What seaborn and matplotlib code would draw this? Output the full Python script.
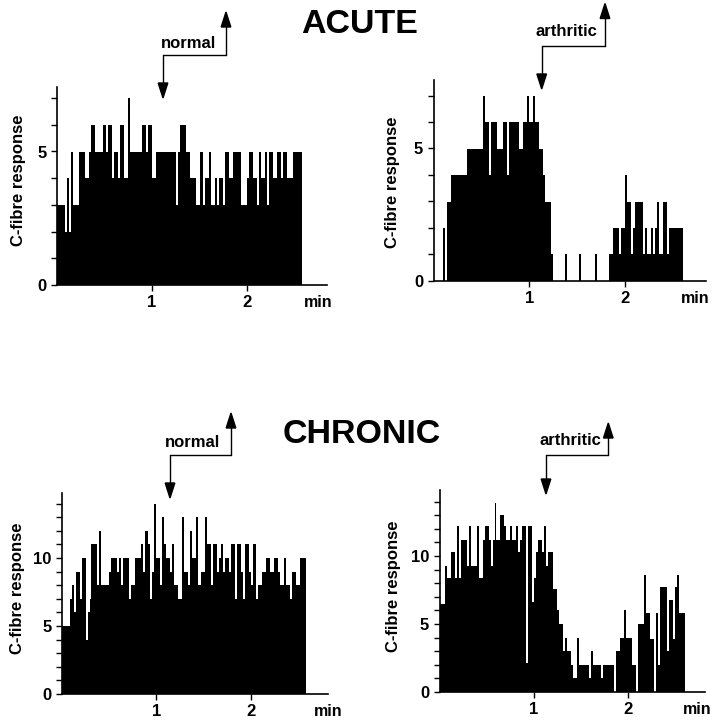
import numpy as np
import pandas as pd
import matplotlib
matplotlib.use("Agg")
import matplotlib.pyplot as plt
import seaborn as sns
from matplotlib.lines import Line2D
from matplotlib.patches import Polygon

# ---------------- data (spike counts per 1.25 s bin) ----------------
BIN_MIN = 1 / 48  # bin width in minutes

acute_normal = [3, 3, 3, 3, 2, 4, 2, 5, 3, 3, 3, 5,
                5, 5, 4, 4, 5, 6, 6, 5, 5, 5, 5, 6,
                6, 5, 6, 6, 4, 5, 5, 4, 6, 6, 4, 4,
                7, 5, 5, 5, 5, 5, 5, 6, 6, 5, 6, 6,
                4, 4, 5, 5, 5, 5, 5, 5, 5, 5, 5, 5,
                3, 5, 6, 6, 6, 5, 5, 4, 4, 4, 3, 3,
                5, 5, 3, 4, 4, 5, 3, 3, 4, 3, 4, 4,
                3, 5, 5, 4, 4, 5, 5, 5, 5, 3, 3, 3,
                4, 5, 5, 4, 4, 3, 5, 4, 4, 5, 3, 5,
                5, 4, 4, 5, 5, 4, 5, 5, 4, 4, 4, 5,
                5, 5, 5, 5]

acute_arthritic = [0, 0, 0, 0, 0, 2, 0, 3, 3, 4, 4, 4,
                   4, 4, 4, 4, 4, 5, 5, 5, 5, 5, 5, 5,
                   5, 7, 6, 6, 4, 6, 6, 6, 5, 5, 5, 6,
                   6, 4, 6, 6, 6, 6, 6, 5, 5, 6, 6, 7,
                   6, 6, 7, 6, 6, 5, 5, 4, 3, 3, 3, 1,
                   0, 0, 0, 0, 0, 0, 1, 0, 0, 0, 0, 0,
                   0, 1, 0, 0, 0, 0, 0, 0, 0, 1, 0, 0,
                   0, 0, 0, 0, 1, 1, 2, 2, 2, 1, 2, 2,
                   4, 3, 3, 1, 2, 3, 3, 3, 3, 1, 2, 1,
                   1, 2, 1, 2, 3, 1, 1, 3, 3, 1, 2, 2,
                   2, 2, 2, 2, 2]

chronic_normal = [5, 5, 5, 5, 7, 8, 6, 9, 9, 7, 10, 10,
                  4, 6, 7, 11, 11, 11, 8, 12, 8, 8, 8, 8,
                  9, 10, 10, 10, 9, 10, 8, 10, 10, 10, 7, 8,
                  8, 10, 10, 10, 11, 9, 12, 12, 11, 7, 9, 14,
                  10, 10, 8, 13, 11, 10, 10, 9, 11, 8, 8, 7,
                  7, 13, 9, 9, 8, 12, 10, 10, 13, 8, 8, 9,
                  9, 13, 11, 11, 8, 11, 11, 9, 10, 11, 9, 10,
                  10, 9, 11, 11, 7, 11, 11, 9, 7, 11, 11, 9,
                  8, 11, 11, 7, 8, 8, 9, 9, 10, 10, 9, 9,
                  10, 10, 9, 8, 8, 10, 8, 8, 7, 9, 9, 8,
                  8, 10, 10, 10]

chronic_arthritic = [6.5, 6.5, 6.5, 9.3, 8.4, 8.4, 10.3, 10.3, 8.4, 12.2, 8.4, 11.2,
                     11.2, 11.2, 9.3, 12.2, 9.3, 9.3, 9.3, 12.2, 8.4, 8.4, 11.2, 12.2,
                     12.2, 11.2, 9.3, 11.2, 13.9, 11.2, 11.2, 13.0, 13.0, 12.2, 11.2, 11.2,
                     12.2, 11.2, 11.2, 12.2, 10.3, 11.2, 12.2, 12.2, 2.1, 12.2, 12.2, 6.6,
                     8.4, 10.3, 11.2, 11.2, 10.3, 12.2, 9.3, 10.3, 10.3, 10.3, 7.6, 7.6,
                     6, 5, 5, 3, 4, 3, 3, 2, 1, 1, 4, 2,
                     2, 2, 2, 2, 1, 3, 2, 2, 2, 2, 1, 2,
                     2, 2, 2, 2, 2, 0, 3, 3, 4, 4, 6, 4,
                     4, 4, 2, 2, 0, 5, 5, 5, 8.6, 5.8, 5.8, 3.9,
                     3.9, 0, 5.8, 2, 7.7, 7.7, 7.7, 7.7, 3, 6.8, 6.8, 3.9,
                     7.7, 8.6, 5.8, 5.8, 5.8]

x_tick_values = [1, 2]
x_tick_labels = ["1", "2"]
x_unit_label = "min"
y_axis_title = "C-fibre response"
acute_y_labels = {0: "0", 5: "5"}
chronic_y_labels = {0: "0", 5: "5", 10: "10"}
section_titles = ["ACUTE", "CHRONIC"]
condition_labels = ["normal", "arthritic"]

# ---------------- style ----------------
sns.set_style("ticks")
plt.rcParams["font.family"] = ["Liberation Sans", "DejaVu Sans"]
plt.rcParams["font.weight"] = "bold"
plt.rcParams["text.color"] = "black"
plt.rcParams["axes.labelcolor"] = "black"
plt.rcParams["xtick.color"] = "black"
plt.rcParams["ytick.color"] = "black"
plt.rcParams["axes.edgecolor"] = "black"

W = H = 720.0
fig = plt.figure(figsize=(7.2, 7.2), dpi=100)
fig.patch.set_facecolor("white")


def px_axes(left, right, bottom, top):
    return fig.add_axes([left / W, 1 - bottom / H, (right - left) / W, (bottom - top) / H])


def draw_hist(ax, values, xmax, ymax, ylabels, lab_x, lab_y, min_x):
    n = len(values)
    df = pd.DataFrame({"t": (np.arange(n) + 0.5) * BIN_MIN,
                       "count": np.asarray(values, dtype=float)})
    sns.histplot(data=df, x="t", weights="count", binwidth=BIN_MIN,
                 binrange=(0, n * BIN_MIN), element="step",
                 fill=True, color="black", alpha=1, linewidth=0, ax=ax)
    ax.set_xlim(0, xmax)
    ax.set_ylim(0, ymax)
    sns.despine(ax=ax)
    for s in ("left", "bottom"):
        ax.spines[s].set_linewidth(1.2)
        ax.spines[s].set_color("black")
    yt = list(range(0, int(ymax) + 1))
    ax.set_yticks(yt)
    ax.set_yticklabels([ylabels.get(v, "") for v in yt])
    ax.set_xticks(x_tick_values)
    ax.set_xticklabels(x_tick_labels)
    ax.tick_params(axis="both", direction="out", length=4.5, width=1.0,
                   colors="black", labelsize=12, labelcolor="black")
    ax.tick_params(axis="x", pad=3)
    ax.tick_params(axis="y", pad=3)
    for lab in ax.get_xticklabels() + ax.get_yticklabels():
        lab.set_fontweight("bold")
        lab.set_color("black")
    ax.set_xlabel("")
    ax.set_ylabel(y_axis_title, fontsize=12, fontweight="bold", color="black")
    ax.yaxis.set_label_coords(lab_x, lab_y)
    ax.annotate(x_unit_label, xy=(min_x, 0), xycoords=("data", "axes fraction"),
                xytext=(0, -7.5), textcoords="offset points", ha="center", va="top",
                fontsize=11.5, fontweight="bold", color="black", annotation_clip=False)
    ax.set_facecolor("none")


# panel geometry in pixels (left, right, bottom, top)
ax1 = px_axes(57, 327, 285, 87)
draw_hist(ax1, acute_normal, 270 / 95, 198 / 26.7, acute_y_labels, -31 / 270, 0.53, 2.75)

ax2 = px_axes(433.5, 706, 281, 80)
draw_hist(ax2, acute_arthritic, 272.5 / 95.7, 201 / 26.5, acute_y_labels, -34 / 272.5, 0.49, 2.73)

ax3 = px_axes(62, 328, 694, 493)
draw_hist(ax3, chronic_normal, 266 / 94.3, 201 / 13.6, chronic_y_labels, -37 / 266, 0.525, 2.82)

ax4 = px_axes(439.5, 705, 692, 490)
draw_hist(ax4, chronic_arthritic, 265.5 / 94.3, 202 / 13.6, chronic_y_labels, -39 / 265.5, 0.525, 2.73)

# ---------------- titles ----------------
fig.text(359.5 / W, 1 - 33.3 / H, section_titles[0], ha="center", va="baseline",
         fontsize=24.5, fontweight="bold", color="black")
fig.text(361.5 / W, 1 - 443.3 / H, section_titles[1], ha="center", va="baseline",
         fontsize=24.5, fontweight="bold", color="black")


# ---------------- stimulus brackets ----------------
def seg(x0, y0, x1, y1):
    fig.add_artist(Line2D([x0 / W, x1 / W], [1 - y0 / H, 1 - y1 / H],
                          color="black", lw=1.0, transform=fig.transFigure))


def head(x, tip_y, down):
    L, hw = 15, 4.8
    base = tip_y - L if down else tip_y + L
    pts = [(x / W, 1 - tip_y / H), ((x - hw) / W, 1 - base / H), ((x + hw) / W, 1 - base / H)]
    fig.add_artist(Polygon(pts, closed=True, color="black", transform=fig.transFigure))


def bracket(x_down, tip_down, y_h, x_up, tip_up, label, lx, ly):
    seg(x_down, y_h, x_down, tip_down - 12)
    seg(x_down, y_h, x_up, y_h)
    seg(x_up, y_h, x_up, tip_up + 12)
    head(x_down, tip_down, True)
    head(x_up, tip_up, False)
    fig.text(lx / W, 1 - ly / H, label, ha="center", va="baseline",
             fontsize=12, fontweight="bold", color="black")


bracket(163, 98, 55, 226, 12, condition_labels[0], 188.5, 48.3)
bracket(541.7, 89, 46, 605, 3.5, condition_labels[1], 566, 36)
bracket(170, 498, 455, 231, 413, condition_labels[0], 193, 446.7)
bracket(546, 494, 455, 608.3, 423, condition_labels[1], 570, 445)

fig.savefig("out.png", dpi=100, facecolor="white")
